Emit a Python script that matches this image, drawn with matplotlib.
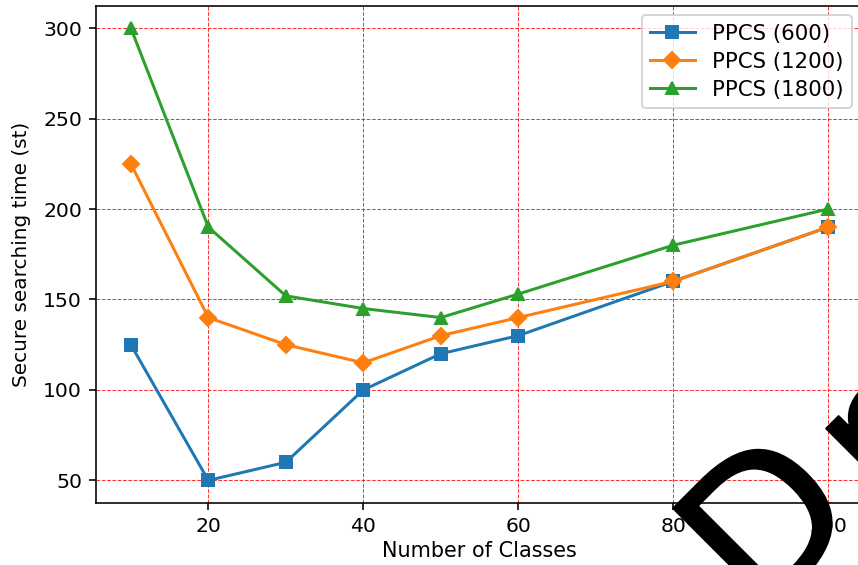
import numpy as np
import matplotlib
matplotlib.use("Agg")
import matplotlib.pyplot as plt
import matplotlib.patheffects as pe
from matplotlib.textpath import TextPath
from matplotlib.font_manager import FontProperties

# Dữ liệu
num_classes = [10, 20, 30, 40, 50, 60, 80, 100]
ppcs_600 = [125, 50, 60, 100, 120, 130, 160, 190]
ppcs_1200 = [225, 140, 125, 115, 130, 140, 160, 190]
ppcs_1800 = [300, 190, 152, 145, 140, 153, 180, 200]
y_ticks = [50, 100, 150, 200, 250, 300]
x_ticks = [20, 40, 60, 80, 100]

DPI = 144
W, H = 858, 565
fig = plt.figure(figsize=(W / DPI, H / DPI), dpi=DPI)
ax = fig.add_axes([96 / W, 62 / H, 767 / W, 497.5 / H])

ax.plot(num_classes, ppcs_600, marker='s', label='PPCS (600)')
ax.plot(num_classes, ppcs_1200, marker='D', label='PPCS (1200)')
ax.plot(num_classes, ppcs_1800, marker='^', label='PPCS (1800)')

ax.set_xticks(x_ticks)
ax.set_yticks(y_ticks)
ax.set_xlabel('Number of Classes', fontsize=10.4, labelpad=2.5)
ax.set_ylabel('Secure searching time (st)', fontsize=10, labelpad=6)
ax.tick_params(labelsize=10.2)
ax.grid(True, color='red', linestyle='--', linewidth=0.5, alpha=0.8)
ax.legend(loc='upper right', bbox_to_anchor=(0.999, 1.002), fontsize=10.6,
          labelspacing=0.38, handlelength=2.1)

# Dấu nước "Draft": cỡ chữ và vị trí tính từ số đo chữ "D" và "r" trong ảnh gốc
fp = FontProperties(family='DejaVu Sans')
ext_d = TextPath((0, 0), 'D', size=100, prop=fp).get_extents()
ext_r = TextPath((0, 0), 'r', size=100, prop=fp).get_extents()
stroke_px = 2.0
fs = (121 - stroke_px) / ((ext_d.x1 - ext_d.x0) / 100 * DPI / 72)
k = fs / 100 * DPI / 72  # đơn vị TextPath -> pixel
h = stroke_px / 2
b = np.array([1, 1]) / np.sqrt(2)   # hướng dòng chữ (xoay 45 độ)
u = np.array([-1, 1]) / np.sqrt(2)  # hướng lên của chữ
effects = [pe.withStroke(linewidth=stroke_px * 72 / DPI, foreground='black')]


def place(txt, corner_img, ext):
    corner = np.array([corner_img[0], H - corner_img[1]])
    anchor = corner - (ext.x0 * k - h) * b - (ext.y1 * k + h) * u
    fig.text(anchor[0] / DPI, anchor[1] / DPI, txt, fontsize=fs,
             family='DejaVu Sans', rotation=45, rotation_mode='anchor',
             ha='left', va='baseline', color='black', zorder=10,
             transform=fig.dpi_scale_trans, path_effects=effects)


place('D', (671.7, 508.3), ext_d)
place('raft', (823.0, 426.7), ext_r)

fig.savefig('out.png', dpi=DPI)
